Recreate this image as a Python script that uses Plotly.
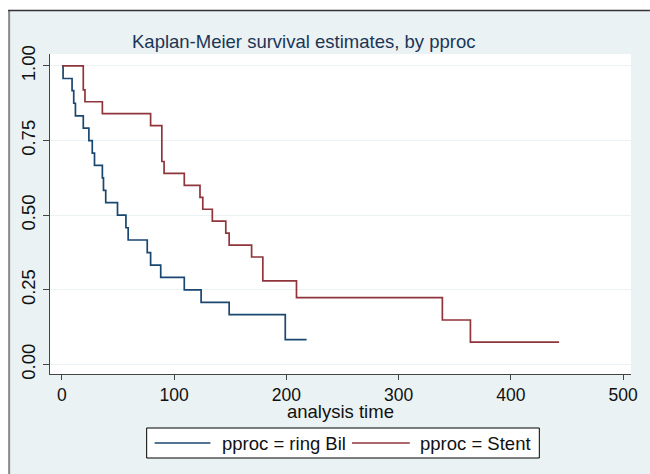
import plotly.graph_objects as go

# ---- data ----
ring_time = [0, 1, 9, 10.5, 12, 19, 24, 27, 29, 36, 37, 39, 49.5, 57, 59, 76, 79, 88, 109, 124, 149, 199, 218]
ring_surv = [1, 0.958, 0.917, 0.875, 0.833, 0.792, 0.75, 0.708, 0.667, 0.625, 0.583, 0.542, 0.5,
             0.458, 0.417, 0.375, 0.333, 0.292, 0.25, 0.208, 0.167, 0.083, 0.083]
stent_time = [0, 19, 20.5, 36, 79, 89, 91, 109, 123, 125.5, 134, 146, 149, 169, 179, 209, 339, 364, 443]
stent_surv = [1, 0.92, 0.88, 0.84, 0.80, 0.68, 0.64, 0.60, 0.56, 0.52, 0.48, 0.44, 0.40, 0.36,
              0.28, 0.224, 0.149, 0.075, 0.075]
series_names = ["pproc = ring Bil", "pproc = Stent"]
x_ticks = [0, 100, 200, 300, 400, 500]
y_ticks = [0, 0.25, 0.5, 0.75, 1.0]
y_tick_text = ["0.00", "0.25", "0.50", "0.75", "1.00"]
title_text = "Kaplan-Meier survival estimates, by pproc"
x_title = "analysis time"

# ---- style ----
W, H = 650, 474
ML, MR, MT, MB = 50, 17, 54, 100
PW, PH = W - ML - MR, H - MT - MB
FONT = "Liberation Sans, Arial, sans-serif"
NAVY = "#1a476f"
MAROON = "#90353b"
BG = "#EAF2F3"


def px(xp):
    return (xp - ML) / PW


def py(yp):
    return (H - MB - yp) / PH


fig = go.Figure()
fig.add_trace(go.Scatter(x=ring_time, y=ring_surv, mode="lines", line_shape="hv",
                         line=dict(color=NAVY, width=1.7), name=series_names[0], showlegend=False))
fig.add_trace(go.Scatter(x=stent_time, y=stent_surv, mode="lines", line_shape="hv",
                         line=dict(color=MAROON, width=1.7), name=series_names[1], showlegend=False))

shapes = [
    # white outside of outer frame
    dict(type="rect", xref="paper", yref="paper", x0=px(-5), x1=px(8), y0=py(H + 5), y1=py(-5),
         fillcolor="white", line=dict(width=0), layer="below"),
    dict(type="rect", xref="paper", yref="paper", x0=px(-5), x1=px(W + 5), y0=py(10), y1=py(-5),
         fillcolor="white", line=dict(width=0), layer="below"),
    # frame lines
    dict(type="line", xref="paper", yref="paper", x0=px(9), x1=px(9), y0=py(10), y1=py(H + 2),
         line=dict(color="#8a8a8a", width=2)),
    dict(type="line", xref="paper", yref="paper", x0=px(8), x1=px(W + 2), y0=py(10.5), y1=py(10.5),
         line=dict(color="#333333", width=1.5)),
    # legend box
    dict(type="rect", xref="paper", yref="paper", x0=px(147), x1=px(541), y0=py(458), y1=py(428),
         fillcolor="white", line=dict(color="black", width=1)),
    dict(type="line", xref="paper", yref="paper", x0=px(155), x1=px(211), y0=py(443), y1=py(443),
         line=dict(color=NAVY, width=1.5)),
    dict(type="line", xref="paper", yref="paper", x0=px(353), x1=px(411), y0=py(443), y1=py(443),
         line=dict(color=MAROON, width=1.5)),
]

annotations = [
    dict(text=title_text, xref="paper", yref="paper", x=px(304), y=py(42), xanchor="center",
         yanchor="middle", showarrow=False, font=dict(family=FONT, size=18.5, color="#1c3557")),
    dict(text=x_title, xref="paper", yref="paper", x=px(341), y=py(411), xanchor="center",
         yanchor="middle", showarrow=False, font=dict(family=FONT, size=18.5, color="#111111")),
    dict(text=series_names[0], xref="paper", yref="paper", x=px(221), y=py(443), xanchor="left",
         yanchor="middle", showarrow=False, font=dict(family=FONT, size=18.5, color="#111111")),
    dict(text=series_names[1], xref="paper", yref="paper", x=px(419), y=py(443), xanchor="left",
         yanchor="middle", showarrow=False, font=dict(family=FONT, size=18.5, color="#111111")),
]

fig.update_layout(
    width=W, height=H,
    margin=dict(l=ML, r=MR, t=MT, b=MB, pad=0),
    paper_bgcolor=BG, plot_bgcolor="white",
    font=dict(family=FONT, size=17.5, color="#111111"),
    shapes=shapes, annotations=annotations, showlegend=False,
    xaxis=dict(range=[-10.66, 507.1], tickmode="array", tickvals=x_ticks,
               ticks="outside", ticklen=5, tickwidth=1, tickcolor="#444",
               showline=True, linecolor="#444", linewidth=1.3, mirror=False,
               showgrid=False, zeroline=False, tickfont=dict(size=17.5)),
    yaxis=dict(range=[-0.0318, 1.040], tickmode="array", tickvals=y_ticks, ticktext=y_tick_text,
               ticks="outside", ticklen=6, tickwidth=1, tickcolor="#444", tickangle=-90,
               showline=True, linecolor="#444", linewidth=1.3, mirror=False,
               showgrid=True, gridcolor=BG, gridwidth=1.2, zeroline=False,
               tickfont=dict(size=18.5)),
)

fig.write_html("out.html")
